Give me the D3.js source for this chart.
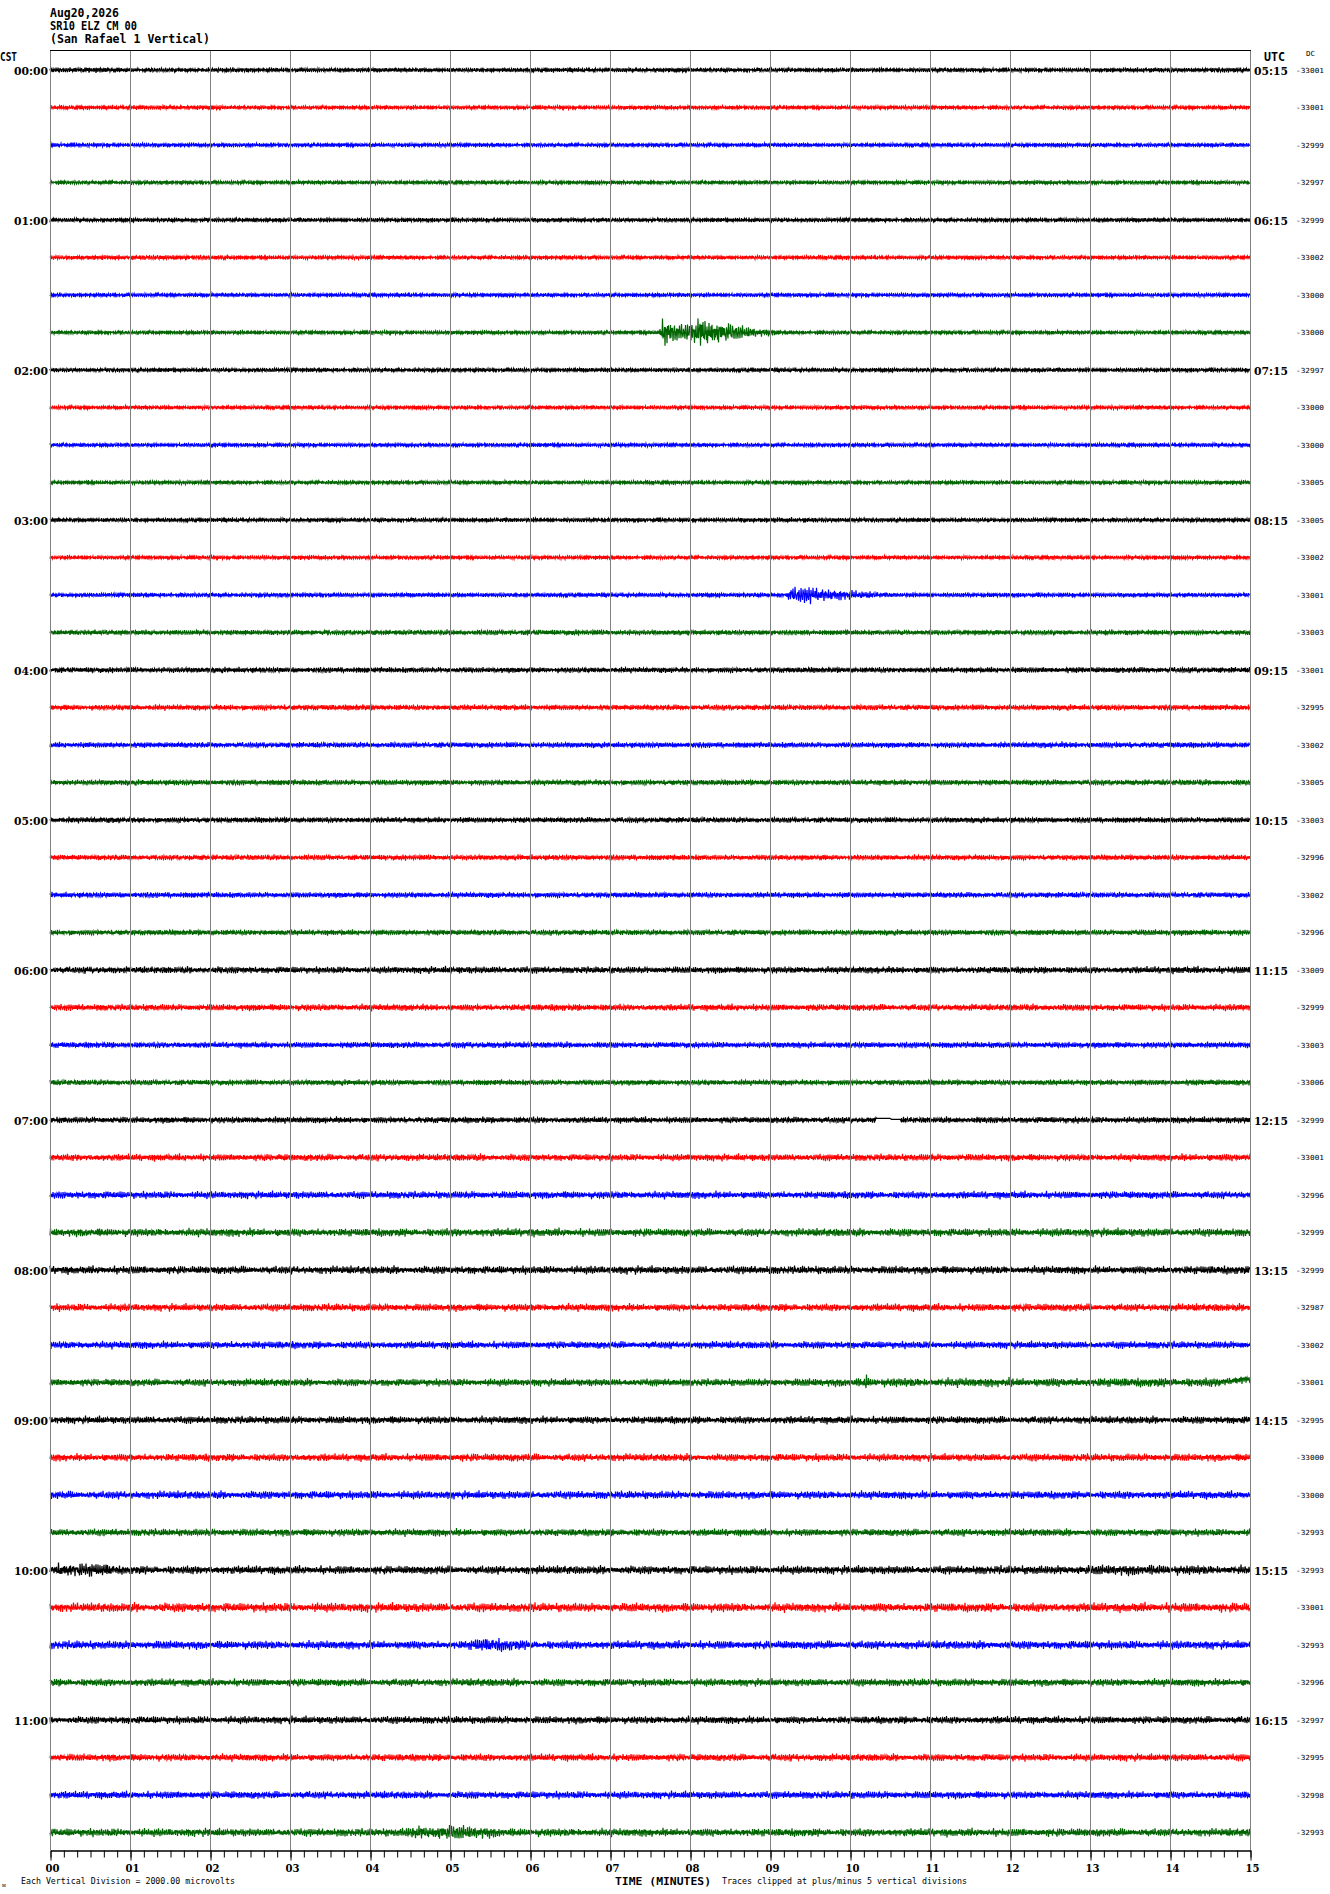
<!DOCTYPE html>
<html>
<head>
<meta charset="utf-8">
<script src="https://cdn.jsdelivr.net/npm/d3@7"></script>
<style>
  html, body { margin: 0; padding: 0; background: #fff; }
  svg { display: block; }
</style>
</head>
<body>
<div id="chart"></div>
<script>
// ---------------- DATA ----------------
const headerLines = ["Aug20,2026", "SR10 ELZ CM 00", "(San Rafael 1 Vertical)"];
const cstLabels = ["00:00","01:00","02:00","03:00","04:00","05:00","06:00","07:00","08:00","09:00","10:00","11:00"];
const utcLabels = ["05:15","06:15","07:15","08:15","09:15","10:15","11:15","12:15","13:15","14:15","15:15","16:15"];
const minuteTicks = [0,1,2,3,4,5,6,7,8,9,10,11,12,13,14,15];
const traceColors = ["#000000", "#ff0000", "#0000ff", "#006400"];
const dcValues = [
  -33001,-33001,-32999,-32997,
  -32999,-33002,-33000,-33000,
  -32997,-33000,-33000,-33005,
  -33005,-33002,-33001,-33003,
  -33001,-32995,-33002,-33005,
  -33003,-32996,-33002,-32996,
  -33009,-32999,-33003,-33006,
  -32999,-33001,-32996,-32999,
  -32999,-32987,-33002,-33001,
  -32995,-33000,-33000,-32993,
  -32993,-33001,-32993,-32996,
  -32997,-32995,-32998,-32993
];
const microvoltsPerDivision = 2000;
const clipDivisions = 5;

// background noise level (peak microvolts) per trace, one value per minute
const noiseLevels = [
  [160,145,140,140,135,140,140,145,140,140,140,135,140,140,155],
  [130,155,130,130,130,130,130,130,130,130,130,130,130,130,130],
  [135,130,130,130,130,130,130,130,130,130,130,130,130,130,135],
  [130,130,130,130,130,130,130,130,130,130,130,130,130,130,130],
  [140,140,140,140,140,140,140,140,140,140,140,140,140,140,140],
  [130,165,130,130,130,130,130,130,130,130,130,130,130,130,130],
  [130,130,130,130,130,130,130,130,130,130,130,130,130,130,130],
  [130,130,130,130,130,130,130,130,130,130,130,130,130,130,130],
  [140,140,140,140,140,140,140,140,140,140,140,140,140,140,140],
  [130,130,130,130,130,130,130,130,130,130,130,130,130,130,130],
  [130,130,130,130,130,130,130,130,130,130,130,130,130,130,140],
  [130,130,130,130,130,130,130,130,130,130,130,130,130,130,130],
  [140,140,140,140,140,140,140,140,140,155,140,140,140,140,140],
  [130,130,130,130,130,130,130,130,130,130,130,130,130,130,130],
  [140,140,140,145,140,140,140,140,140,140,140,140,140,140,140],
  [160,160,165,160,160,170,180,160,160,160,160,160,160,160,160],
  [175,175,175,175,175,175,175,175,175,175,175,175,185,185,175],
  [175,175,175,185,175,175,175,175,175,175,175,175,175,175,175],
  [175,175,175,175,175,175,175,175,175,175,175,175,190,195,175],
  [175,175,175,175,175,175,175,175,175,175,175,175,175,175,185],
  [185,175,175,175,175,175,175,175,175,175,175,175,175,175,175],
  [170,170,170,170,170,170,170,170,170,170,170,170,170,170,170],
  [175,175,175,175,175,175,175,175,175,175,175,175,175,175,175],
  [175,175,175,175,175,175,175,175,175,175,175,175,175,185,190],
  [215,215,220,215,215,230,215,215,215,215,215,215,215,220,230],
  [210,210,210,215,210,210,215,210,210,210,210,210,210,210,215],
  [190,190,190,190,190,200,190,190,190,190,190,190,190,190,190],
  [175,175,175,175,175,175,175,175,175,175,175,175,175,175,190],
  [200,200,200,200,200,200,200,200,200,200,180,200,200,200,200],
  [220,220,220,220,220,220,220,220,220,220,220,220,220,220,235],
  [235,235,235,235,235,235,235,235,235,235,235,235,235,235,235],
  [255,255,260,255,255,270,260,255,255,255,255,255,260,270,255],
  [260,255,255,255,255,255,255,260,260,255,255,255,255,255,270],
  [240,240,240,240,240,240,240,240,240,240,240,240,250,240,240],
  [235,235,250,235,235,235,235,235,235,235,235,235,235,235,235],
  [235,235,235,235,235,235,235,235,235,250,285,285,285,290,290],
  [240,240,240,240,240,240,240,240,240,240,240,240,240,240,240],
  [240,240,240,240,240,255,240,240,240,240,240,240,240,240,240],
  [255,255,255,255,255,255,255,255,255,255,255,255,255,255,255],
  [230,230,230,230,235,230,230,230,230,230,230,235,230,230,230],
  [270,270,270,270,270,270,270,270,270,270,270,270,285,350,295],
  [290,300,295,290,290,290,290,290,290,290,290,290,290,300,310],
  [270,270,270,270,270,270,270,270,270,270,270,270,270,270,270],
  [240,240,240,240,240,250,240,240,240,240,240,240,240,240,240],
  [240,240,240,240,240,240,240,240,240,240,240,240,240,240,240],
  [230,230,230,230,230,230,230,230,230,230,230,230,230,230,235],
  [240,240,240,240,240,240,240,240,240,240,240,240,240,240,240],
  [255,255,255,255,255,270,255,255,255,255,255,260,260,255,255]
];

// transient signals: [minute, peak microvolts] envelope points
const eventTraces = [7, 14, 40, 42, 47, 35];
const eventEnvelopes = [
  [[7.60,140],[7.66,900],[7.74,680],[7.90,520],[8.04,680],[8.18,1100],[8.32,820],[8.55,500],[8.85,280],[9.15,140]],
  [[9.20,150],[9.26,500],[9.45,540],[9.70,440],[9.95,320],[10.40,150]],
  [[0.05,270],[0.10,480],[0.40,460],[0.70,400],[0.85,270]],
  [[5.20,270],[5.35,430],[5.60,420],[5.95,300],[6.10,270]],
  [[4.35,255],[4.60,420],[4.90,500],[5.25,420],[5.80,255]],
  [[10.17,280],[10.21,560],[10.25,280]]
];
// flat (no signal) stretches: [trace, fromMinute, toMinute]
const flatSegments = [[28, 10.33, 10.63]];
// baseline offsets: trace with [minute, microvolts] points
const offsetTraces = [28, 35];
const offsetPoints = [
  [[10.31,0],[10.33,90],[10.50,90],[10.52,30],[10.63,30],[10.64,0]],
  [[14.60,0],[14.95,170],[15.00,170]]
];

// fixed wiggle patterns (carrier shapes), values in [-1, 1]
const wiggleA = [0.3,-0.5,0.8,-0.2,0.1,-0.7,0.4,-0.9,0.6,-0.3,0.2,-0.6,1.0,-0.4,0.5,-0.1,0.7,-0.8,0.3,-0.5,0.9,-0.2,0.4,-0.6,0.1,-0.3,0.8,-0.7,0.5,-0.4,0.2,-1.0,0.6,-0.2,0.3,-0.5,0.7,-0.1,0.4,-0.8,0.9,-0.3,0.2,-0.6,0.5,-0.4,0.1,-0.7,0.8,-0.2,0.3,-0.9,0.6,-0.5,0.4,-0.1,0.7,-0.3,0.2,-0.6,0.5];
const wiggleB = [0.5,0.2,-0.4,-0.1,0.6,0.3,-0.7,-0.2,0.1,0.8,-0.5,-0.3,0.4,0.2,-0.6,-0.1,0.7,0.3,-0.8,-0.4,0.2,0.5,-0.3,-0.6,0.1,0.9,-0.2,-0.5,0.4,0.3,-0.7,-0.1,0.6,0.2,-0.4,-0.8,0.3,0.5,-0.2,-0.3,0.7,0.1,-0.5];

// ---------------- CHART ----------------
const W = 1330, H = 1894;
const svg = d3.select("#chart").append("svg")
  .attr("width", W).attr("height", H).attr("viewBox", `0 0 ${W} ${H}`);
svg.append("rect").attr("width", W).attr("height", H).attr("fill", "#fff");

const nTraces = dcValues.length;
const x = d3.scaleLinear().domain([0, 15]).range([50, 1250]);
const y = d3.scaleLinear().domain([0, nTraces - 1]).range([70, 70 + (nTraces - 1) * 37.5]);
const amp = d3.scaleLinear().domain([0, microvoltsPerDivision]).range([0, 37.5]);

function pieceLerp(pts, m) {
  if (m <= pts[0][0] || m >= pts[pts.length - 1][0]) return null;
  for (let k = 0; k < pts.length - 1; k++) {
    if (m >= pts[k][0] && m <= pts[k + 1][0]) {
      const f = (m - pts[k][0]) / (pts[k + 1][0] - pts[k][0]);
      return pts[k][1] + f * (pts[k + 1][1] - pts[k][1]);
    }
  }
  return null;
}
function baseLevel(levels, m) {
  const p = Math.max(0, Math.min(levels.length - 1, m - 0.5));
  const k = Math.min(levels.length - 2, Math.floor(p));
  const f = p - k;
  return levels[k] + f * (levels[k + 1] - levels[k]);
}

const samplesPerMinute = 160;
const nSamples = 15 * samplesPerMinute;
const clipUV = clipDivisions * microvoltsPerDivision;

const traces = d3.range(nTraces).map(t => {
  const pts = [];
  for (let i = 0; i <= nSamples; i++) {
    const m = i / samplesPerMinute;
    let env = baseLevel(noiseLevels[t], m);
    eventTraces.forEach((et, e) => {
      if (et === t) {
        const v = pieceLerp(eventEnvelopes[e], m);
        if (v !== null) env = Math.max(env, v);
      }
    });
    flatSegments.forEach(fs => { if (fs[0] === t && m >= fs[1] && m <= fs[2]) env = 0; });
    let off = 0;
    offsetTraces.forEach((ot, o) => {
      if (ot === t) { const v = pieceLerp(offsetPoints[o], m); if (v !== null) off = v; }
    });
    const a = wiggleA[(i + t * 17) % wiggleA.length];
    const b = wiggleB[(i + t * 29) % wiggleB.length];
    const c = Math.max(-1, Math.min(1, 0.65 * a + 0.45 * b));
    const uv = Math.max(-clipUV, Math.min(clipUV, off + env * c));
    pts.push([m, uv]);
  }
  return { t, pts };
});

const line = d3.line().x(d => x(d[0]));
const gTr = svg.append("g");
traces.forEach(tr => {
  gTr.append("path")
    .attr("d", line.y(d => y(tr.t) - amp(d[1]))(tr.pts))
    .attr("fill", "none")
    .attr("stroke", traceColors[tr.t % 4])
    .attr("stroke-width", 1.2);
});

// vertical minute gridlines (drawn over traces)
svg.append("g").selectAll("line").data(minuteTicks).join("line")
  .attr("x1", d => Math.round(x(d)) + 0.5).attr("x2", d => Math.round(x(d)) + 0.5)
  .attr("y1", 50).attr("y2", 1850)
  .attr("stroke", "#808080").attr("stroke-width", 1);
// top border
svg.append("line").attr("x1", x(0)).attr("x2", x(15) + 1).attr("y1", 50.5).attr("y2", 50.5)
  .attr("stroke", "#000").attr("stroke-width", 1);

// bottom axis: minor ticks every 10 s, major at minutes
const minorTicks = d3.range(0, 15 * 6 + 1).map(k => k / 6);
const axMinor = svg.append("g").attr("transform", "translate(0.5,1850.5)")
  .call(d3.axisBottom(x).tickValues(minorTicks).tickSize(7).tickSizeOuter(0).tickFormat(""));
const axMajor = svg.append("g").attr("transform", "translate(0.5,1850.5)")
  .call(d3.axisBottom(x).tickValues(minuteTicks).tickSize(10).tickSizeOuter(0).tickPadding(4)
    .tickFormat(d3.format("02d")));
[axMinor, axMajor].forEach(ax => {
  ax.select(".domain").attr("stroke", "#000");
  ax.selectAll(".tick line").attr("stroke", "#000");
});
axMajor.selectAll(".tick text")
  .attr("font-family", "DejaVu Serif").attr("font-weight", "bold").attr("font-size", 11)
  .attr("fill", "#000").attr("y", 0).attr("dy", 0)
  .attr("transform", "translate(1.5,21)")
  .attr("textLength", 14).attr("lengthAdjust", "spacingAndGlyphs");

// text helper
function txt(s, xx, yy, size, opts = {}) {
  const el = svg.append("text").text(s)
    .attr("x", xx).attr("y", yy)
    .attr("font-family", opts.family || "DejaVu Sans Mono")
    .attr("font-size", size)
    .attr("font-weight", opts.bold ? "bold" : "normal")
    .attr("fill", "#000");
  if (opts.len) el.attr("textLength", opts.len).attr("lengthAdjust", "spacingAndGlyphs");
  return el;
}

// header
txt(headerLines[0], 50, 16.5, 11.5, { bold: true, len: 69 });
txt(headerLines[1], 50, 29.5, 11.5, { bold: true, len: 87 });
txt(headerLines[2], 50, 42.5, 11.5, { bold: true, len: 160 });

txt("CST", 0, 61, 11.5, { bold: true, len: 17 });
txt("UTC", 1264, 61, 11.5, { bold: true, len: 21 });
txt("DC", 1306, 56, 7, { len: 9 });

cstLabels.forEach((s, k) => txt(s, 14, y(k * 4) + 4.5, 11.5, { bold: true, family: "DejaVu Serif", len: 34 }));
utcLabels.forEach((s, k) => txt(s, 1254, y(k * 4) + 4.8, 11.5, { bold: true, family: "DejaVu Serif", len: 34 }));
dcValues.forEach((v, k) => txt(String(v), 1296, y(k) + 2.6, 7, { len: 28 }));

// footer
txt("ᴍ", 2, 1887, 6, {});
txt("Each Vertical Division = " + microvoltsPerDivision.toFixed(2) + " microvolts", 21, 1883.5, 8, { len: 214 });
txt("TIME (MINUTES)", 615, 1884.5, 10.5, { bold: true, len: 96 });
txt("Traces clipped at plus/minus " + clipDivisions + " vertical divisions", 722, 1883.5, 8, { len: 245 });
</script>
</body>
</html>
